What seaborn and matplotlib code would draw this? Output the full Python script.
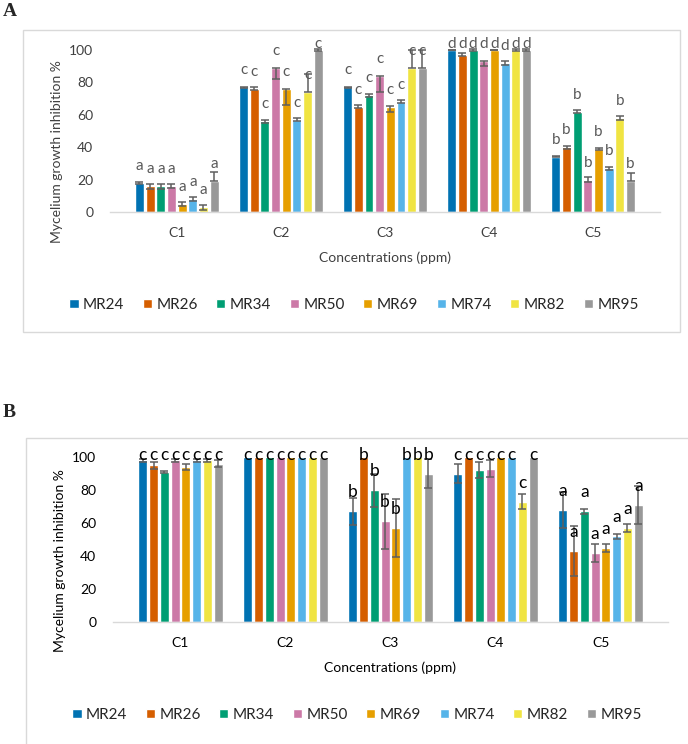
import numpy as np
import pandas as pd
import matplotlib
matplotlib.use("Agg")
import matplotlib.pyplot as plt
from matplotlib.patches import Rectangle
import seaborn as sns

# categories / series
concs = ["C1", "C2", "C3", "C4", "C5"]
strains = ["MR24", "MR26", "MR34", "MR50", "MR69", "MR74", "MR82", "MR95"]
colors = ["#0072B2", "#D55E00", "#009E73", "#CC79A7", "#E69F00", "#56B4E9", "#F0E442", "#999999"]

# Panel A  (rows = strains, cols = C1..C5)
vals_a = [
    [18, 77, 77, 100, 34],
    [16, 76, 65, 97, 40],
    [16, 56, 72, 100, 62],
    [16, 89, 84, 93, 20],
    [5, 76, 65, 100, 39],
    [8, 57, 68, 92, 27],
    [3, 74, 89, 100, 58],
    [19, 100, 89, 100, 19],
]
err_lo_a = [
    [0.5, 0.3, 0.3, 0.3, 0.3],
    [1.5, 1, 1, 1, 1],
    [1.5, 1, 1, 0.5, 1],
    [1, 7, 10, 3, 1.5],
    [1, 10, 3, 0.3, 0.5],
    [1, 1, 1, 1, 1],
    [1.5, 0, 0, 0.5, 1],
    [0, 0.5, 0, 0.5, 0],
]
err_hi_a = [
    [0.5, 0.3, 0.3, 0.3, 0.3],
    [1.5, 1, 1, 1, 1],
    [1.5, 1, 1, 0.5, 1],
    [1, 0, 0, 0.5, 1.5],
    [1, 0, 0.5, 0.3, 0.5],
    [1, 1, 1, 1, 1],
    [1.5, 11, 11, 0.5, 1],
    [6, 0.5, 11, 0.5, 5],
]
letters_a = ["a", "c", "c", "d", "b"]

# Panel B
vals_b = [
    [98, 100, 67, 90, 68],
    [95, 100, 100, 100, 43],
    [91, 100, 80, 92, 67],
    [98, 100, 61, 93, 42],
    [94, 100, 57, 100, 45],
    [98, 100, 100, 100, 52],
    [98, 100, 100, 73, 57],
    [96, 100, 90, 100, 71],
]
err_b = [
    [1, 0, 8, 6, 11],
    [2, 0, 0, 0, 15],
    [0.5, 0, 10, 5, 1.5],
    [1, 0, 16.5, 5, 5.5],
    [2, 0, 17.5, 0, 2.5],
    [1, 0, 0, 0, 1.5],
    [1, 0, 0, 4.5, 2.5],
    [2, 0, 9, 0, 11.5],
]
letters_b = ["c", "c", "b", "c", "a"]

sns.set_style("white")
plt.rcParams["font.family"] = ["Lato", "DejaVu Sans"]

fig = plt.figure(figsize=(6.88, 7.44), dpi=100)
W, H = 688, 744


def px_rect(x0, y0, x1, y1):
    # pixel box (top-left origin) -> figure fraction
    return [x0 / W, 1 - y1 / H, (x1 - x0) / W, (y1 - y0) / H]


def panel(ax, vals, lo, hi, letters, lab_off, lab_cap, lab_color, lab_size, txt_color):
    df = pd.DataFrame(
        [(s, c, vals[i][j]) for i, s in enumerate(strains) for j, c in enumerate(concs)],
        columns=["strain", "conc", "value"],
    )
    sns.barplot(data=df, x="conc", y="value", hue="strain", order=concs, hue_order=strains,
                palette=colors, saturation=1, width=0.82, gap=0.16, errorbar=None, ax=ax)
    bar_conts = list(ax.containers)
    for i, cont in enumerate(bar_conts):
        bars = sorted(cont.patches, key=lambda p: p.get_x())
        for j, b in enumerate(bars):
            xc = b.get_x() + b.get_width() / 2
            v = vals[i][j]
            if lo[i][j] > 0 or hi[i][j] > 0:
                eb = ax.errorbar(xc, v, yerr=[[lo[i][j]], [hi[i][j]]], fmt="none",
                                 ecolor="#5f5f5f", elinewidth=1.1, capsize=3, capthick=1.1)
                for art in list(eb.lines[1]) + list(eb.lines[2]):
                    art.set_clip_on(False)
            # significance letter just above the bar top
            ax.text(xc, min(v + lab_off, lab_cap), letters[j], ha="center", va="center",
                    color=lab_color, fontsize=lab_size)
    ax.set_ylim(0, 100)
    ax.set_yticks(range(0, 101, 20))
    ax.set_xlabel("Concentrations (ppm)", fontsize=10, color=txt_color, labelpad=9)
    ax.set_ylabel("")
    ax.tick_params(length=0, labelsize=10, colors=txt_color)
    ax.tick_params(axis="x", pad=11)
    ax.tick_params(axis="y", pad=12)
    for s in ["top", "right", "left"]:
        ax.spines[s].set_visible(False)
    ax.spines["bottom"].set_color("#d9d9d9")
    ax.spines["bottom"].set_linewidth(1.0)


# frames round each panel
fig.add_artist(Rectangle((23 / W, 1 - 332 / H), 657 / W, 302 / H, transform=fig.transFigure,
                         fill=False, edgecolor="#d9d9d9", linewidth=1))
fig.add_artist(Rectangle((26 / W, 1 - 750 / H), 680 / W, 312 / H, transform=fig.transFigure,
                         fill=False, edgecolor="#d9d9d9", linewidth=1))

ax_a = fig.add_axes(px_rect(110, 50, 660, 212))
panel(ax_a, vals_a, err_lo_a, err_hi_a, letters_a, 10.5, 104, "#595959", 11, "#404040")
sns.move_legend(ax_a, "center", bbox_to_anchor=(354 / W, 1 - 305 / H), bbox_transform=fig.transFigure,
                ncol=8, frameon=False, title=None, fontsize=11, handlelength=0.6, handleheight=0.6,
                handletextpad=0.3, columnspacing=1.2)

ax_b = fig.add_axes(px_rect(113, 457, 668, 622))
panel(ax_b, vals_b, err_b, err_b, letters_b, 11.5, 101, "black", 12.5, "black")
sns.move_legend(ax_b, "center", bbox_to_anchor=(357 / W, 1 - 715 / H), bbox_transform=fig.transFigure,
                ncol=8, frameon=False, title=None, fontsize=11, handlelength=0.6, handleheight=0.6,
                handletextpad=0.3, columnspacing=1.2)

fig.text(57 / W, 1 - 152 / H, "Mycelium growth inhibition %", rotation=90, ha="center", va="center",
         fontsize=10, color="#404040")
fig.text(60 / W, 1 - 561 / H, "Mycelium growth inhibition %", rotation=90, ha="center", va="center",
         fontsize=10, color="black")

fig.text(3 / W, 1 - 11 / H, "A", family="Liberation Serif", fontweight="bold", fontsize=14,
         ha="left", va="center")
fig.text(3 / W, 1 - 413 / H, "B", family="Liberation Serif", fontweight="bold", fontsize=14,
         ha="left", va="center")

fig.savefig("out.png", dpi=100)
